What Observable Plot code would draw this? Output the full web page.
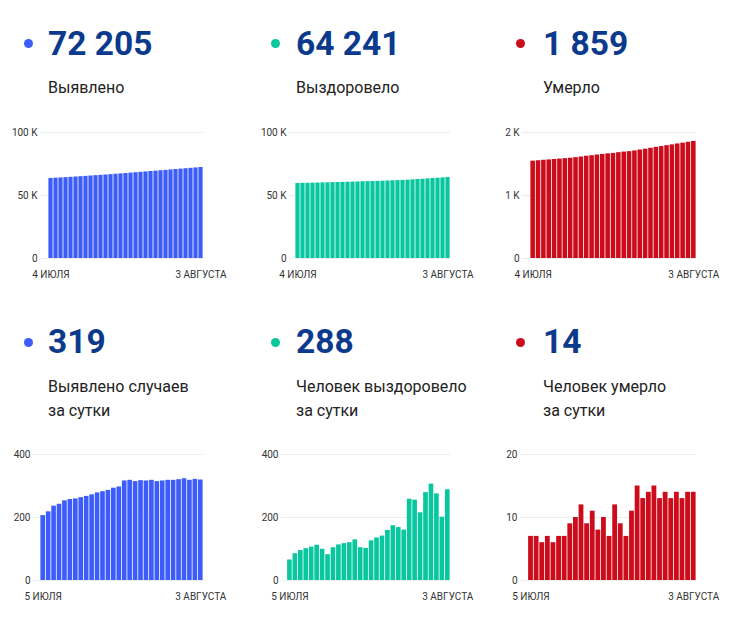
<!DOCTYPE html>
<html>
<head>
<meta charset="utf-8">
<script src="https://cdn.jsdelivr.net/npm/d3@7"></script>
<script src="https://cdn.jsdelivr.net/npm/@observablehq/plot@0.6"></script>
<style>
  html, body { margin: 0; padding: 0; background: #fff; }
  body { width: 747px; height: 619px; position: relative; overflow: hidden; font-family: Roboto, "Noto Sans", sans-serif; }
  .dot { position: absolute; width: 9px; height: 9px; border-radius: 50%; }
  .num { position: absolute; font-size: 33.5px; font-weight: 700; line-height: 34px; color: #0b3a8c; white-space: nowrap; }
  .lbl { position: absolute; font-size: 16px; line-height: 16px; color: #222; white-space: nowrap; }
  .lbl2 { position: absolute; font-size: 16px; line-height: 24px; color: #222; white-space: nowrap; }
  .chart { position: absolute; }
</style>
</head>
<body>
<script>
// ---- categories ----
const daysTop = ["04.07","05.07","06.07","07.07","08.07","09.07","10.07","11.07","12.07","13.07","14.07","15.07","16.07","17.07","18.07","19.07","20.07","21.07","22.07","23.07","24.07","25.07","26.07","27.07","28.07","29.07","30.07","31.07","01.08","02.08","03.08"];
const daysBottom = ["05.07","06.07","07.07","08.07","09.07","10.07","11.07","12.07","13.07","14.07","15.07","16.07","17.07","18.07","19.07","20.07","21.07","22.07","23.07","24.07","25.07","26.07","27.07","28.07","29.07","30.07","31.07","01.08","02.08","03.08"];
const tickLabelsTop = ["4 ИЮЛЯ", "3 АВГУСТА"];
const tickLabelsBottom = ["5 ИЮЛЯ", "3 АВГУСТА"];

// ---- series ----
const casesTotal = [63530,63736,63954,64190,64432,64685,64942,65201,65464,65731,66003,66281,66563,66849,67142,67439,67755,68073,68387,68704,69020,69338,69652,69968,70286,70604,70924,71247,71565,71886,72205];
const recoveredTotal = [59567,59632,59717,59812,59913,60019,60131,60230,60312,60416,60529,60646,60766,60895,60999,61101,61227,61362,61503,61662,61836,62004,62164,62422,62677,62892,63171,63477,63752,63953,64241];
const deathsTotal = [1545,1552,1559,1565,1572,1578,1585,1592,1601,1611,1623,1632,1643,1651,1661,1668,1680,1689,1696,1707,1722,1735,1749,1764,1777,1791,1804,1818,1831,1845,1859];

const casesDaily = [206,218,236,242,253,257,259,263,267,272,278,282,286,293,297,316,318,314,317,316,318,314,316,318,318,320,323,318,321,319];
const recoveredDaily = [65,85,95,101,106,112,99,82,104,113,117,120,129,104,102,126,135,141,159,174,168,160,258,255,215,279,306,275,201,288];
const deathsDaily = [7,7,6,7,6,7,7,9,10,12,9,11,8,10,7,12,9,7,11,15,13,14,15,13,14,13,14,13,14,14];

// ---- headline texts ----
const headNumbers = ["72 205", "64 241", "1 859", "319", "288", "14"];
const headLabels = ["Выявлено", "Выздоровело", "Умерло", "Выявлено случаев<br>за сутки", "Человек выздоровело<br>за сутки", "Человек умерло<br>за сутки"];

const colors = ["#3c5cfb", "#08c79f", "#cc0b1b"];

const colX = [{dot: 24, text: 48}, {dot: 271, text: 296}, {dot: 516, text: 543}];

function addEl(cls, left, top, html, extra) {
  const d = document.createElement("div");
  d.className = cls;
  d.style.left = left + "px";
  d.style.top = top + "px";
  if (html != null) d.innerHTML = html;
  if (extra) Object.assign(d.style, extra);
  document.body.appendChild(d);
  return d;
}

// headers
for (let i = 0; i < 6; i++) {
  const c = i % 3, row = Math.floor(i / 3);
  const yOff = row === 0 ? 0 : 298.5;
  addEl("dot", colX[c].dot, 39 + yOff, null, {background: colors[c]});
  addEl("num", colX[c].text, 26.6 + yOff, headNumbers[i]);
  if (row === 0) addEl("lbl", colX[c].text, 79.5, headLabels[i]);
  else addEl("lbl2", colX[c].text, 375, headLabels[i]);
}

function kfmt(d) { return d === 0 ? "0" : (d / 1000) + " K"; }

function chart({days, values, color, ticks, fmt, tickLabels, left, top, width, marginLeft, range}) {
  const data = days.map((d, i) => ({day: d, value: values[i]}));
  const labelMap = new Map([[days[0], tickLabels[0]], [days[days.length - 1], tickLabels[1]]]);
  const p = Plot.plot({
    width,
    height: 162,
    marginTop: 10,
    marginBottom: 26,
    marginLeft,
    marginRight: width - range[1],
    style: {fontFamily: "Roboto, sans-serif", fontSize: "10px", color: "#333", background: "transparent", overflow: "visible"},
    x: {type: "band", domain: days, range, padding: 0, round: false, label: null},
    y: {domain: [0, ticks[ticks.length - 1]], ticks, label: null},
    marks: [
      Plot.ruleY(ticks, {stroke: "#ececec", strokeWidth: 1}),
      Plot.barY(data, {x: "day", y: "value", fill: color, insetLeft: 0.4, insetRight: 0.4}),
      Plot.axisY({ticks, tickSize: 0, tickPadding: 3, tickFormat: fmt, label: null}),
      Plot.axisX({ticks: [days[0], days[days.length - 1]], tickSize: 0, tickPadding: 12, tickFormat: d => labelMap.get(d), label: null})
    ]
  });
  p.classList.add("chart");
  p.style.left = left + "px";
  p.style.top = top + "px";
  p.style.position = "absolute";
  document.body.appendChild(p);
}

// top row
chart({days: daysTop, values: casesTotal, color: colors[0], ticks: [0, 50000, 100000], fmt: kfmt, tickLabels: tickLabelsTop, left: 0, top: 122, width: 232, marginLeft: 40, range: [48, 203]});
chart({days: daysTop, values: recoveredTotal, color: colors[1], ticks: [0, 50000, 100000], fmt: kfmt, tickLabels: tickLabelsTop, left: 250, top: 122, width: 232, marginLeft: 39, range: [45, 200]});
chart({days: daysTop, values: deathsTotal, color: colors[2], ticks: [0, 1000, 2000], fmt: kfmt, tickLabels: tickLabelsTop, left: 497, top: 122, width: 240, marginLeft: 25, range: [33, 199]});

// bottom row
chart({days: daysBottom, values: casesDaily, color: colors[0], ticks: [0, 200, 400], fmt: d => String(d), tickLabels: tickLabelsBottom, left: 0, top: 444, width: 232, marginLeft: 33, range: [40, 203]});
chart({days: daysBottom, values: recoveredDaily, color: colors[1], ticks: [0, 200, 400], fmt: d => String(d), tickLabels: tickLabelsBottom, left: 250, top: 444, width: 232, marginLeft: 31, range: [36.7, 200]});
chart({days: daysBottom, values: deathsDaily, color: colors[2], ticks: [0, 10, 20], fmt: d => String(d), tickLabels: tickLabelsBottom, left: 497, top: 444, width: 240, marginLeft: 23, range: [30.7, 199]});
</script>
</body>
</html>
